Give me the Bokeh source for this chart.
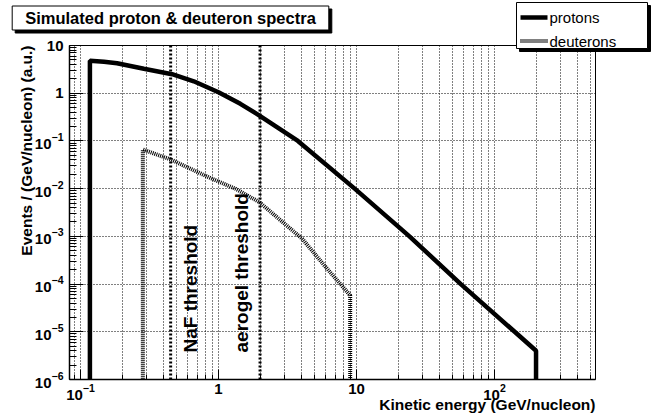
from math import log10, pi
from bokeh.plotting import figure
from bokeh.layouts import column
from bokeh.models import FixedTicker, LogTickFormatter, Label, Span, Range1d
from bokeh.embed import file_html
from bokeh.resources import INLINE

# ---------------- data ----------------
proton_energy = [0.117, 0.148, 0.184, 0.288, 0.461, 0.662, 1.0, 1.44, 1.98, 3.76, 9.7, 24.2, 57.0, 140.0, 200.0]
proton_flux = [4.8, 4.55, 4.25, 3.25, 2.5, 1.78, 1.05, 0.60, 0.34, 0.1, 0.01, 1e-3, 1e-4, 1e-5, 4.0e-6]

deuteron_energy = [0.283, 0.449, 0.85, 1.33, 1.98, 4.04, 6.0, 9.0]
deuteron_flux = [0.066, 0.041, 0.0173, 0.0099, 5.2e-3, 8.9e-4, 2.25e-4, 5.8e-5]

empty_bin = 1e-7  # histogram content outside the spectrum (below the axis)

threshold_energy = [0.45, 2.0]
threshold_names = ["NaF threshold", "aerogel threshold"]

x_tick_values = [0.1, 1, 10, 100]
y_tick_values = [1e-6, 1e-5, 1e-4, 1e-3, 1e-2, 1e-1, 1, 10]
plain_labels = {1: "1", 10: "10"}

series_names = ["protons", "deuterons"]
title_text = "Simulated proton & deuteron spectra"
x_title = "Kinetic energy (GeV/nucleon)"
y_title = "Events / (GeV/nucleon) (a.u.)"

# ---------------- geometry ----------------
W, H = 654, 416
FL, FR, FT, FB = 69, 595, 45, 379
X0, X1 = 10 ** (-1 - 11 / 138), 10 ** (2 + 101 / 138)
Y0, Y1 = 1e-6, 10.0


def py(yp):
    return 10 ** (log10(Y1) - (yp - FT) / (FB - FT) * (log10(Y1) - log10(Y0)))


FONT = "Liberation Sans"

p = figure(width=W, height=H, x_axis_type="log", y_axis_type="log",
           x_range=(X0, X1), y_range=(Y0, Y1),
           output_backend="svg", toolbar_location=None,
           min_border_left=FL, min_border_right=W - FR,
           min_border_top=FT, min_border_bottom=H - FB)
p.background_fill_color = "white"
p.border_fill_color = "white"
p.outline_line_color = "black"
p.outline_line_width = 1

xminor = [k * 10 ** d for d in range(-2, 3) for k in range(2, 10) if X0 <= k * 10 ** d <= X1]
yminor = [k * 10 ** d for d in range(-6, 1) for k in range(2, 10)]
xt = FixedTicker(ticks=x_tick_values, minor_ticks=xminor)
yt = FixedTicker(ticks=y_tick_values, minor_ticks=yminor)
p.xaxis.ticker = xt
p.yaxis.ticker = yt
p.xgrid.ticker = xt
p.ygrid.ticker = yt

for ax in (p.xaxis[0], p.yaxis[0]):
    ax.formatter = LogTickFormatter()
    ax.major_label_overrides = plain_labels
    ax.axis_line_color = "black"
    ax.axis_line_width = 1.5
    ax.major_tick_line_color = "black"
    ax.minor_tick_line_color = "black"
    ax.major_tick_out = 0
    ax.minor_tick_out = 0
    ax.major_label_text_font = FONT
    ax.major_label_text_font_style = "bold"
    ax.major_label_text_font_size = "15px"
    ax.major_label_text_color = "black"
p.xaxis.major_tick_in = 10
p.xaxis.minor_tick_in = 5
p.yaxis.major_tick_in = 14
p.yaxis.minor_tick_in = 7
p.xaxis.major_label_standoff = 4
p.yaxis.major_label_standoff = 6

p.xgrid.grid_line_color = "black"
p.xgrid.grid_line_dash = "1 2"
p.xgrid.minor_grid_line_color = "black"
p.xgrid.minor_grid_line_dash = "1 2"
p.ygrid.grid_line_color = "black"
p.ygrid.grid_line_dash = "1 2"
p.ygrid.minor_grid_line_color = None

# threshold lines
for e in threshold_energy:
    p.add_layout(Span(location=e, dimension="height", line_color="black",
                      line_width=3, line_dash="2 2"))

# spectra (histogram outline: drops to empty bins at both ends)
pe = [proton_energy[0]] + proton_energy + [proton_energy[-1]]
pf = [empty_bin] + proton_flux + [empty_bin]
de = [deuteron_energy[0]] + deuteron_energy + [deuteron_energy[-1]]
df = [empty_bin] + deuteron_flux + [empty_bin]
P_STYLE = dict(line_color="black", line_width=4.5)
D_STYLE = dict(line_color="black", line_width=4, line_dash="1 1")
p.line(de, df, **D_STYLE)
p.line(pe, pf, **P_STYLE)

# threshold labels
for e, name, dx in zip(threshold_energy, threshold_names, (20, -19)):
    p.add_layout(Label(x=e, y=py(352), x_offset=dx, text=name, angle=pi / 2,
                       text_align="left", text_baseline="middle",
                       text_font=FONT, text_font_style="bold", text_font_size="19px",
                       text_color="black"))

# ---------------- overlay in page pixels: titles, legend ----------------
q = figure(width=W, height=H, x_range=Range1d(0, W), y_range=Range1d(H, 0),
           x_axis_type=None, y_axis_type=None,
           output_backend="svg", toolbar_location=None,
           min_border=0, min_border_left=0, min_border_right=0,
           min_border_top=0, min_border_bottom=0, margin=(-H, 0, 0, 0))
for fig in (p, q):
    if "frame_align" in fig.properties():
        fig.frame_align = False
q.background_fill_alpha = 0
q.border_fill_alpha = 0
q.outline_line_color = None

q.add_layout(Label(x=25.5, y=45, text=y_title, angle=pi / 2,
                   text_align="right", text_baseline="middle", text_color="black",
                   text_font=FONT, text_font_style="bold", text_font_size="15.5px"))
q.add_layout(Label(x=595, y=404, text=x_title,
                   text_align="right", text_baseline="middle", text_color="black",
                   text_font=FONT, text_font_style="bold", text_font_size="15.5px"))

for shadow in (True, False):
    q.add_layout(Label(x=170, y=17.5, text=title_text,
                       x_offset=3 if shadow else 0, y_offset=-3 if shadow else 0,
                       text_align="center", text_baseline="middle",
                       text_font=FONT, text_font_style="bold", text_font_size="16.5px",
                       text_color="black", padding=(13, 3),
                       background_fill_color="black" if shadow else "white",
                       border_line_color="black", border_line_width=1))

# legend box (ROOT style, with shadow), keys and entries
LB = dict(left=516, right=647, top=2, bottom=48)
q.quad(left=LB["left"] + 3, right=LB["right"] + 3, top=LB["top"] + 3, bottom=LB["bottom"] + 3,
       fill_color="black", line_color="black")
q.quad(left=LB["left"], right=LB["right"], top=LB["top"], bottom=LB["bottom"],
       fill_color="white", line_color="black", line_width=1)
for name, style, yk in zip(series_names, (P_STYLE, D_STYLE), (17, 40.5)):
    q.line(x=[LB["left"] + 4, LB["left"] + 31], y=[yk, yk], **style)
    q.add_layout(Label(x=LB["left"] + 33, y=yk, text=name,
                       text_align="left", text_baseline="middle", text_color="black",
                       text_font=FONT, text_font_size="15px"))

layout = column(p, q, spacing=0)
open("out.html", "w").write(file_html(layout, INLINE))
